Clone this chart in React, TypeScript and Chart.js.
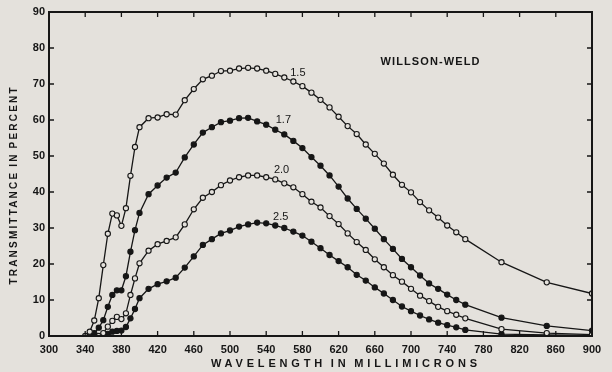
import React, { useEffect, useRef } from "react";
import { Chart, registerables } from "chart.js";

Chart.register(...registerables);

// ---- data (wavelength in millimicrons, transmittance in percent) ----
const WL_MAIN = [410, 420, 430, 440, 450, 460, 470, 480, 490, 500, 510, 520, 530, 540, 550, 560, 570, 580, 590, 600, 610, 620, 630, 640, 650, 660, 670, 680, 690, 700, 710, 720, 730, 740, 750, 760, 800, 850, 900];

const WL_UV_15 = [340, 345, 350, 355, 360, 365, 370, 375, 380, 385, 390, 395, 400];
const T_15 = [0, 1.2, 4.3, 10.5, 19.7, 28.4, 34, 33.5, 30.6, 35.5, 44.5, 52.5, 58,
  60.5, 60.7, 61.6, 61.5, 65.5, 68.6, 71.3, 72.3, 73.6, 73.7, 74.3, 74.5, 74.3, 73.7, 72.8, 71.8, 70.7, 69.4, 67.6, 65.6, 63.5, 60.9, 58.3, 56.1, 53.2, 50.6, 47.9, 44.8, 42, 39.9, 37.2, 34.9, 32.9, 30.7, 28.8, 26.9, 20.5, 14.9, 11.8];

const WL_UV_17 = [345, 350, 355, 360, 365, 370, 375, 380, 385, 390, 395, 400];
const T_17 = [0, 0.8, 2.3, 4.4, 8.1, 11.4, 12.7, 12.7, 16.6, 23.4, 29.4, 34.2,
  39.4, 41.8, 44, 45.4, 49.6, 53.2, 56.5, 58, 59.4, 59.8, 60.5, 60.6, 59.6, 58.7, 57.3, 56, 54.2, 52.2, 49.7, 47.3, 44.6, 41.5, 38.2, 35.3, 32.6, 29.8, 26.9, 24.2, 21.4, 19.1, 16.8, 14.6, 13.1, 11.5, 10, 8.7, 5.1, 2.8, 1.5];

const WL_UV_20 = [355, 360, 365, 370, 375, 380, 385, 390, 395, 400];
const T_20 = [0, 0.8, 2.6, 4.2, 5.3, 4.7, 6.3, 11.4, 16, 20.2,
  23.7, 25.5, 26.4, 27.4, 31, 35.2, 38.4, 40, 41.9, 43.2, 44.1, 44.6, 44.6, 44.1, 43.5, 42.4, 41.3, 39.4, 37.3, 35.7, 33.3, 31.1, 28.5, 26.1, 23.9, 21.3, 19.1, 16.9, 15.1, 13.1, 11.2, 9.7, 8.1, 6.9, 5.9, 4.9, 1.9, 0.8, 0.4];

const WL_UV_25 = [360, 365, 370, 375, 380, 385, 390, 395, 400];
const T_25 = [0, 0.6, 1.2, 1.4, 1.5, 2.5, 4.9, 7.5, 10.5,
  13.1, 14.4, 15.2, 16.2, 19, 22.1, 25.3, 26.9, 28.5, 29.3, 30.4, 31, 31.5, 31.3, 30.7, 30, 29, 27.9, 26.2, 24.4, 22.5, 20.8, 19.1, 17, 15.4, 13.5, 11.8, 10, 8.2, 6.9, 5.7, 4.6, 3.7, 3, 2.4, 1.7, 0.5, 0.3, 0.2];

const SERIES_NAMES = ["1.5", "1.7", "2.0", "2.5"];
const SERIES_OPEN = [true, false, true, false];

const X_TICKS = [300, 340, 380, 420, 460, 500, 540, 580, 620, 660, 700, 740, 780, 820, 860, 900];
const Y_TICKS = [0, 10, 20, 30, 40, 50, 60, 70, 80, 90];

// curve labels, anchored in data units
const LABEL_WL = [575, 559, 557, 556];
const LABEL_T = [73, 60, 46.1, 33.1];
const TITLE_TEXT = "WILLSON-WELD";
const TITLE_WL = 721;
const TITLE_T = 76.1;

const X_TITLE = "WAVELENGTH IN MILLIMICRONS";
const Y_TITLE = "TRANSMITTANCE IN PERCENT";

const BG = "#e4e1dc";
const INK = "#161616";

function spacedText(ctx: CanvasRenderingContext2D, text: string, x: number, y: number, width: number, wordGap: number) {
  const c = ctx as any;
  c.letterSpacing = "0px";
  c.wordSpacing = wordGap + "px";
  const w = ctx.measureText(text).width;
  const sp = Math.max(0, (width - w) / (text.length - 1));
  c.letterSpacing = sp + "px";
  const w2 = ctx.measureText(text).width;
  ctx.textAlign = "left";
  ctx.fillText(text, x - (w2 - sp) / 2, y);
  c.letterSpacing = "0px";
  c.wordSpacing = "0px";
}

const decorPlugin = {
  id: "decor",
  beforeDraw(chart: any) {
    const { ctx, width, height } = chart;
    ctx.save();
    ctx.fillStyle = BG;
    ctx.fillRect(0, 0, width, height);
    ctx.restore();
  },
  afterDraw(chart: any) {
    const { ctx, chartArea } = chart;
    const xs = chart.scales.x;
    const ys = chart.scales.y;
    const { left, right, top, bottom } = chartArea;
    ctx.save();
    ctx.strokeStyle = INK;
    ctx.lineWidth = 2;
    ctx.strokeRect(left, top, right - left, bottom - top);
    ctx.lineWidth = 1.3;
    ctx.beginPath();
    X_TICKS.forEach((v) => {
      const px = xs.getPixelForValue(v);
      if (v === 300 || v === 900) return;
      ctx.moveTo(px, bottom);
      ctx.lineTo(px, bottom - 5);
      ctx.moveTo(px, top);
      ctx.lineTo(px, top + 5);
    });
    Y_TICKS.forEach((v) => {
      const py = ys.getPixelForValue(v);
      if (v === 0 || v === 90) return;
      ctx.moveTo(left, py);
      ctx.lineTo(left + 5, py);
      ctx.moveTo(right, py);
      ctx.lineTo(right - 5, py);
    });
    ctx.stroke();

    ctx.fillStyle = INK;
    ctx.textBaseline = "middle";
    ctx.textAlign = "center";
    ctx.font = "11px 'Liberation Sans', Arial, sans-serif";
    SERIES_NAMES.forEach((name, i) => {
      ctx.fillText(name, xs.getPixelForValue(LABEL_WL[i]), ys.getPixelForValue(LABEL_T[i]));
    });
    ctx.font = "bold 11px 'Liberation Sans', Arial, sans-serif";
    spacedText(ctx, TITLE_TEXT, xs.getPixelForValue(TITLE_WL), ys.getPixelForValue(TITLE_T), 99, 0);

    // axis titles
    ctx.font = "bold 11px 'Liberation Sans', Arial, sans-serif";
    spacedText(ctx, X_TITLE, 344, 364, 266, -2);
    ctx.save();
    ctx.translate(14, (top + bottom) / 2 + 12);
    ctx.rotate(-Math.PI / 2);
    ctx.font = "bold 10px 'Liberation Sans', Arial, sans-serif";
    spacedText(ctx, Y_TITLE, 0, 0, 197, -1);
    ctx.restore();
    ctx.restore();
  },
};

export default function App() {
  const ref = useRef<HTMLCanvasElement | null>(null);
  useEffect(() => {
    if (!ref.current) return;
    const wls = [WL_UV_15.concat(WL_MAIN), WL_UV_17.concat(WL_MAIN), WL_UV_20.concat(WL_MAIN), WL_UV_25.concat(WL_MAIN)];
    const vals = [T_15, T_17, T_20, T_25];
    const datasets = SERIES_NAMES.map((name, i) => ({
      label: name,
      data: wls[i].map((x, j) => ({ x, y: vals[i][j] })),
      borderColor: INK,
      borderWidth: 1.3,
      pointRadius: 2.6,
      pointBorderWidth: 1.1,
      pointBorderColor: INK,
      pointBackgroundColor: SERIES_OPEN[i] ? BG : INK,
      tension: 0,
      fill: false,
    }));
    const tickFont = { family: "'Liberation Sans', Arial, sans-serif", size: 11, weight: "bold" as const };
    const chart = new Chart(ref.current, {
      type: "line",
      data: { datasets },
      plugins: [decorPlugin],
      options: {
        animation: false,
        responsive: false,
        devicePixelRatio: 1,
        layout: { padding: { top: 12, right: 20, left: 0, bottom: 0 } },
        plugins: { legend: { display: false }, tooltip: { enabled: false } },
        scales: {
          x: {
            type: "linear",
            min: 300,
            max: 900,
            grid: { display: false, drawTicks: false },
            border: { display: false },
            afterBuildTicks: (s: any) => {
              s.ticks = X_TICKS.map((v) => ({ value: v }));
            },
            afterFit: (s: any) => {
              s.height = 36;
            },
            ticks: { font: tickFont, color: INK, padding: 7, maxRotation: 0, autoSkip: false },
          },
          y: {
            type: "linear",
            min: 0,
            max: 90,
            grid: { display: false, drawTicks: false },
            border: { display: false },
            afterBuildTicks: (s: any) => {
              s.ticks = Y_TICKS.map((v) => ({ value: v }));
            },
            afterFit: (s: any) => {
              s.width = 49;
            },
            ticks: { font: tickFont, color: INK, padding: 4 },
          },
        },
      },
    } as any);
    return () => chart.destroy();
  }, []);
  return (
    <div style={{ position: "fixed", left: 0, top: 0, width: 612, height: 372, background: BG }}>
      <canvas ref={ref} width={612} height={372} style={{ display: "block" }} />
    </div>
  );
}
